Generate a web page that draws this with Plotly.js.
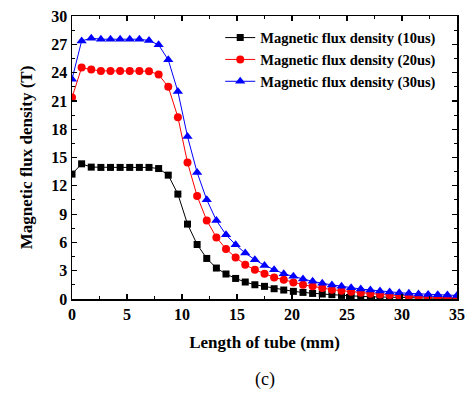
<!DOCTYPE html>
<html>
<head>
<meta charset="utf-8">
<script src="https://cdn.plot.ly/plotly-3.0.1.min.js"></script>
<style>html,body{margin:0;padding:0;background:#fff;}#chart{width:473px;height:394px;}</style>
</head>
<body>
<div id="chart"></div>
<script>
// Length of tube (mm): 41 samples, 0 to 35 mm
const lengthMm = [0,0.875,1.75,2.625,3.5,4.375,5.25,6.125,7,7.875,8.75,9.625,10.5,11.375,12.25,13.125,14,14.875,15.75,16.625,17.5,18.375,19.25,20.125,21,21.875,22.75,23.625,24.5,25.375,26.25,27.125,28,28.875,29.75,30.625,31.5,32.375,33.25,34.125,35];
const flux10us = [13.24,14.33,13.98,13.95,13.95,13.95,13.95,13.95,13.95,13.83,13.13,11.12,7.94,5.78,4.30,3.28,2.65,2.18,1.80,1.51,1.34,1.09,0.95,0.81,0.70,0.59,0.53,0.46,0.38,0.35,0.28,0.24,0.20,0.17,0.15,0.13,0.12,0.10,0.08,0.07,0.06];
const flux20us = [21.35,24.53,24.32,24.18,24.18,24.18,24.18,24.18,24.15,23.79,22.49,19.28,14.47,10.91,8.33,6.53,5.30,4.41,3.63,3.10,2.68,2.29,2.04,1.76,1.51,1.34,1.16,0.99,0.88,0.77,0.67,0.56,0.49,0.42,0.35,0.32,0.25,0.21,0.18,0.14,0.10];
const flux30us = [23.30,27.36,27.65,27.54,27.54,27.54,27.54,27.54,27.40,26.94,25.35,21.99,17.22,13.41,10.52,8.33,6.81,5.75,4.87,4.16,3.56,3.10,2.68,2.40,2.12,1.87,1.66,1.48,1.34,1.20,1.06,0.95,0.85,0.74,0.67,0.60,0.53,0.49,0.46,0.42,0.38];
const seriesNames = ['Magnetic flux density (10us)','Magnetic flux density (20us)','Magnetic flux density (30us)'];
const xTicks = [0,5,10,15,20,25,30,35];
const yTicks = [0,3,6,9,12,15,18,21,24,27,30];

const FONT = 'Liberation Serif, Times New Roman, serif';
const traces = [
  {x: lengthMm, y: flux10us, name: '<b>' + seriesNames[0] + '</b>', mode: 'lines+markers', line: {color: '#000000', width: 1}, marker: {symbol: 'square', size: 7, color: '#000000'}},
  {x: lengthMm, y: flux20us, name: '<b>' + seriesNames[1] + '</b>', mode: 'lines+markers', line: {color: '#ff0000', width: 1}, marker: {symbol: 'circle', size: 8, color: '#ff0000'}},
  {x: lengthMm, y: flux30us, name: '<b>' + seriesNames[2] + '</b>', mode: 'lines+markers', line: {color: '#0000ff', width: 1}, marker: {symbol: 'triangle-up', size: 9, color: '#0000ff'}}
];
const axisCommon = {
  showgrid: false, zeroline: false, showline: true, mirror: 'allticks', linecolor: '#000', linewidth: 1.5,
  ticks: 'inside', ticklen: 5, tickwidth: 1.2, tickcolor: '#000',
  tickfont: {family: FONT, size: 16, color: '#000', weight: 'bold'},
  minor: {ticks: 'inside', ticklen: 3, tickwidth: 1, tickcolor: '#000'}
};
const layout = {
  width: 473, height: 394,
  margin: {l: 72, r: 16, t: 16, b: 95},
  paper_bgcolor: '#fff', plot_bgcolor: '#fff',
  showlegend: true,
  legend: {x: 0.385, y: 0.98, xanchor: 'left', yanchor: 'top', bgcolor: 'rgba(0,0,0,0)', borderwidth: 0,
           font: {family: FONT, size: 14.5, color: '#000'}, tracegroupgap: 0, itemwidth: 30},
  xaxis: Object.assign({}, axisCommon, {
    range: [0, 35], tickmode: 'array', tickvals: xTicks, ticktext: xTicks.map(String),
    minor: Object.assign({}, axisCommon.minor, {dtick: 2.5, tick0: 0}),
    title: {text: '<b>Length of tube (mm)</b>', font: {family: FONT, size: 17, color: '#000'}, standoff: 14}
  }),
  yaxis: Object.assign({}, axisCommon, {
    range: [0, 30], tickmode: 'array', tickvals: yTicks, ticktext: yTicks.map(String),
    minor: Object.assign({}, axisCommon.minor, {dtick: 1.5, tick0: 0}),
    title: {text: '<b>Magnetic flux density (T)</b>', font: {family: FONT, size: 17, color: '#000'}, standoff: 14}
  }),
  annotations: [{text: '(c)', xref: 'paper', yref: 'paper', x: 0.5, y: -0.285, xanchor: 'center', yanchor: 'middle', showarrow: false,
                 font: {family: FONT, size: 18, color: '#000'}}]
};
Plotly.newPlot('chart', traces, layout, {displayModeBar: false, staticPlot: true});
</script>
</body>
</html>
